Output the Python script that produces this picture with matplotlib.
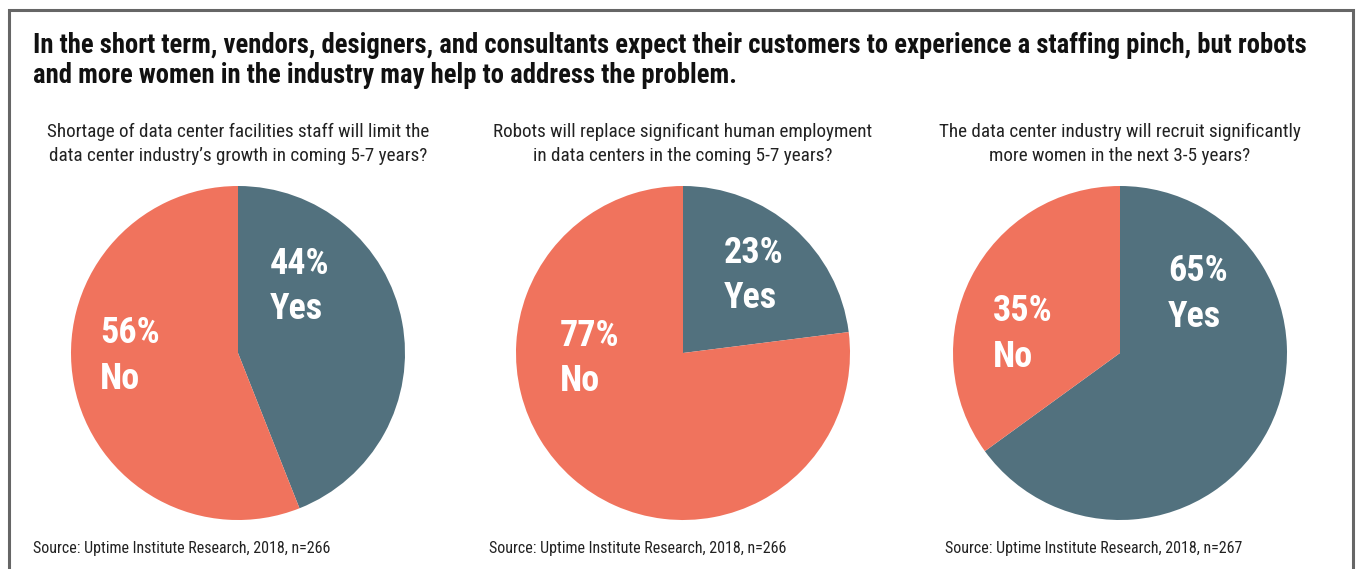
import matplotlib.pyplot as plt
from matplotlib.patches import Rectangle

plt.rcParams['font.family'] = ['Roboto Condensed', 'Liberation Sans Narrow', 'Roboto', 'DejaVu Sans']

# Survey results, share answering Yes / No
questions = [
    "Shortage of data center facilities staff will limit the\ndata center industry\u2019s growth in coming 5-7 years?",
    "Robots will replace significant human employment\nin data centers in the coming 5-7 years?",
    "The data center industry will recruit significantly\nmore women in the next 3-5 years?",
]
yes_pct = [44, 23, 65]
no_pct = [56, 77, 35]
sample_sizes = [266, 266, 267]
answers = ["Yes", "No"]

title = ("In the short term, vendors, designers, and consultants expect their customers to experience a staffing pinch, but robots\n"
         "and more women in the industry may help to address the problem.")

slate = "#52717E"
coral = "#F0735D"

W, H = 1356, 569
fig = plt.figure(figsize=(W / 100, H / 100), dpi=100)

# frame around the whole graphic (bottom edge runs off the canvas)
fig.patches.append(Rectangle((9 / W, -0.05), (W - 12) / W, 1 - 10 / H + 0.05,
                             transform=fig.transFigure, fill=False,
                             edgecolor="#666666", linewidth=2.2))

# va="baseline" on multi-line text anchors the last line
fig.text(33 / W, 1 - 83 / H, title, fontsize=19.2, fontweight="bold",
         va="baseline", ha="left", linespacing=1.12, color="#111111")

centers = [238, 683, 1120]
source_x = [33, 489, 945]
radius = 167
cy = 353
# label anchor offsets inside each pie (fraction of radius)
yes_pos = [(0.19, 0.40), (0.245, 0.464), (0.287, 0.353)]
no_pos = [(-0.826, -0.018), (-0.737, -0.033), (-0.76, 0.114)]

for i, cx in enumerate(centers):
    ax = fig.add_axes([(cx - radius) / W, (H - cy - radius) / H, 2 * radius / W, 2 * radius / H])
    ax.pie([yes_pct[i], no_pct[i]], colors=[slate, coral], startangle=90,
           counterclock=False, radius=1, wedgeprops=dict(linewidth=0))
    ax.set_xlim(-1, 1)
    ax.set_ylim(-1, 1)
    ax.set_aspect("auto")
    ax.axis("off")
    ax.text(*yes_pos[i], f"{yes_pct[i]}%\n{answers[0]}", color="white", fontsize=26,
            fontweight="bold", ha="left", va="center", linespacing=1.33)
    ax.text(*no_pos[i], f"{no_pct[i]}%\n{answers[1]}", color="white", fontsize=26,
            fontweight="bold", ha="left", va="center", linespacing=1.33)

    fig.text(cx / W, 1 - 161 / H, questions[i], fontsize=13.8, ha="center", va="baseline",
             linespacing=1.4, color="#222222")
    fig.text(source_x[i] / W, 1 - 553 / H,
             f"Source: Uptime Institute Research, 2018, n={sample_sizes[i]}",
             fontsize=11.5, ha="left", va="baseline", color="#222222")

fig.savefig("out.png", dpi=100)
